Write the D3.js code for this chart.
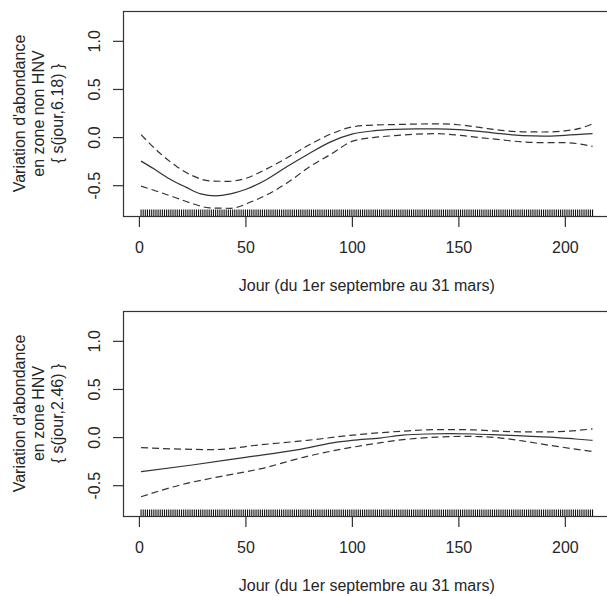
<!DOCTYPE html>
<html>
<head>
<meta charset="utf-8">
<script src="https://cdn.jsdelivr.net/npm/d3@7/dist/d3.min.js"></script>
<style>
  html, body { margin: 0; padding: 0; background: #fff; }
  svg { display: block; }
  text { font-family: "Liberation Sans", Arial, sans-serif; fill: #262626; }
</style>
</head>
<body>
<script>
// ---------- data ----------
const xTicks = [0, 50, 100, 150, 200];
const yTicks = [-0.5, 0.0, 0.5, 1.0];
const yTickLabels = ["-0.5", "0.0", "0.5", "1.0"];
const xTitle = "Jour (du 1er septembre au 31 mars)";

// observed days (rug)
const rugDays = [1,2,3,4,5,6,7,8,9,10,11,12,13,14,15,16,17,18,19,20,21,22,23,24,25,26,27,28,29,30,
31,32,33,34,35,36,37,38,39,40,41,42,43,44,45,46,47,48,49,50,51,52,53,54,55,56,57,58,59,60,
61,62,63,64,65,66,67,68,69,70,71,72,73,74,75,76,77,78,79,80,81,82,83,84,85,86,87,88,89,90,
91,92,93,94,95,96,97,98,99,100,101,102,103,104,105,106,107,108,109,110,111,112,113,114,115,116,117,118,119,120,
121,122,123,124,125,126,127,128,129,130,131,132,133,134,135,136,137,138,139,140,141,142,143,144,145,146,147,148,149,150,
151,152,153,154,155,156,157,158,159,160,161,162,163,164,165,166,167,168,169,170,171,172,173,174,175,176,177,178,179,180,
181,182,183,184,185,186,187,188,189,190,191,192,193,194,195,196,197,198,199,200,201,202,203,204,205,206,207,208,209,210,
211,212,213];

// Panel 1 : zone non HNV, s(jour,6.18)
const p1Title = ["Variation d'abondance", "en zone non HNV", "{ s(jour,6.18) }"];
const p1FitDays = [1, 7, 14, 22, 29, 36, 43, 50, 60, 70, 80, 90, 100, 110, 120, 130, 140, 150, 160, 170, 180, 190, 200, 213];
const p1Fit     = [-0.25, -0.33, -0.43, -0.52, -0.59, -0.61, -0.59, -0.545, -0.44, -0.30, -0.17, -0.05, 0.03, 0.065, 0.08, 0.085, 0.085, 0.078, 0.06, 0.035, 0.015, 0.01, 0.018, 0.035];
const p1UpDays  = [1, 10, 18, 25, 33, 42, 50, 60, 70, 80, 90, 100, 110, 120, 130, 140, 150, 160, 170, 180, 190, 200, 207, 213];
const p1Up      = [0.025, -0.17, -0.31, -0.40, -0.455, -0.46, -0.43, -0.33, -0.21, -0.08, 0.03, 0.105, 0.125, 0.13, 0.135, 0.138, 0.128, 0.10, 0.07, 0.055, 0.053, 0.065, 0.09, 0.138];
const p1LoDays  = [1, 8, 16, 25, 33, 43, 53, 60, 70, 80, 90, 100, 110, 120, 130, 140, 150, 160, 170, 180, 190, 200, 213];
const p1Lo      = [-0.51, -0.56, -0.62, -0.69, -0.735, -0.74, -0.67, -0.60, -0.47, -0.31, -0.18, -0.045, -0.005, 0.015, 0.03, 0.035, 0.02, -0.005, -0.028, -0.05, -0.058, -0.058, -0.096];

// Panel 2 : zone HNV, s(jour,2.46)
const p2Title = ["Variation d'abondance", "en zone HNV", "{ s(jour,2.46) }"];
const p2FitDays = [1, 25, 50, 75, 91, 100, 113, 124, 135, 146, 157, 166, 180, 193, 205, 213];
const p2Fit     = [-0.36, -0.29, -0.21, -0.13, -0.06, -0.035, -0.01, 0.02, 0.032, 0.035, 0.032, 0.025, 0.012, 0.0, -0.02, -0.034];
const p2UpDays  = [1, 20, 35, 57, 79, 99, 113, 124, 135, 146, 157, 166, 180, 193, 200, 213];
const p2Up      = [-0.11, -0.125, -0.13, -0.08, -0.034, 0.017, 0.045, 0.062, 0.075, 0.078, 0.075, 0.065, 0.055, 0.055, 0.06, 0.085];
const p2LoDays  = [1, 19, 38, 57, 79, 99, 113, 124, 140, 151, 160, 170, 180, 193, 213];
const p2Lo      = [-0.62, -0.50, -0.41, -0.33, -0.20, -0.11, -0.06, -0.027, 0.0, 0.007, 0.005, -0.01, -0.04, -0.086, -0.15];

// ---------- drawing ----------
const W = 607, H = 596;
const svg = d3.select("body").append("svg").attr("width", W).attr("height", H);
svg.append("rect").attr("width", W).attr("height", H).attr("fill", "#fff");

const lineColor = "#333";
const fontSize = 16;

const x = d3.scaleLinear().domain([-7.48, 221.48]).range([123, 610.6]);

function zip(a, b) { return a.map((d, i) => [d, b[i]]); }

function panel(offsetY, titleLines, fitD, fit, upD, up, loD, lo) {
  const g = svg.append("g").attr("transform", `translate(0,${offsetY})`);
  const top = 11, bottom = 216;
  const y = d3.scaleLinear().domain([-0.82, 1.31]).range([bottom, top]);
  const x0 = x.range()[0], x1 = x.range()[1];

  const line = d3.line().x(d => x(d[0])).y(d => y(d[1])).curve(d3.curveMonotoneX);

  // curves
  g.append("path").datum(zip(fitD, fit)).attr("d", line)
    .attr("fill", "none").attr("stroke", lineColor).attr("stroke-width", 1.2);
  g.append("path").datum(zip(upD, up)).attr("d", line)
    .attr("fill", "none").attr("stroke", lineColor).attr("stroke-width", 1.2)
    .attr("stroke-dasharray", "7,4");
  g.append("path").datum(zip(loD, lo)).attr("d", line)
    .attr("fill", "none").attr("stroke", lineColor).attr("stroke-width", 1.2)
    .attr("stroke-dasharray", "7,4");

  // rug
  g.append("g").selectAll("line").data(rugDays).join("line")
    .attr("x1", d => x(d)).attr("x2", d => x(d))
    .attr("y1", bottom - 6.5).attr("y2", bottom)
    .attr("stroke", "#111").attr("stroke-width", 1.1);

  // box
  g.append("rect").attr("x", x0 + 0.5).attr("y", top + 0.5)
    .attr("width", x1 - x0).attr("height", bottom - top)
    .attr("fill", "none").attr("stroke", lineColor).attr("stroke-width", 1.2);

  // x axis
  const xa = g.append("g").attr("transform", `translate(0,${bottom})`)
    .call(d3.axisBottom(x).tickValues(xTicks).tickSize(11).tickPadding(15).tickFormat(d3.format("d")));
  xa.select(".domain").remove();
  xa.selectAll("line").attr("stroke", lineColor).attr("stroke-width", 1.2);
  xa.selectAll("text").attr("font-size", fontSize).attr("font-family", "Liberation Sans, Arial, sans-serif")
    .attr("fill", "#262626");

  // y axis (rotated labels like R)
  const ya = g.append("g").attr("transform", `translate(${x0},0)`)
    .call(d3.axisLeft(y).tickValues(yTicks).tickSize(10).tickFormat((d, i) => yTickLabels[i]));
  ya.select(".domain").remove();
  ya.selectAll("line").attr("stroke", lineColor).attr("stroke-width", 1.2);
  ya.selectAll("text")
    .attr("x", 0).attr("dy", 0).attr("y", 0)
    .attr("text-anchor", "middle")
    .attr("transform", "translate(-23,0) rotate(-90)")
    .attr("font-size", fontSize).attr("font-family", "Liberation Sans, Arial, sans-serif")
    .attr("fill", "#262626");

  // x title
  g.append("text").attr("x", (x0 + x1) / 2).attr("y", 291)
    .attr("text-anchor", "middle").attr("font-size", fontSize).text(xTitle);

  // y title (3 lines)
  const cy = (top + bottom) / 2;
  const baselines = [25, 44, 63];
  titleLines.forEach((t, i) => {
    g.append("text")
      .attr("transform", `translate(${baselines[i]},${cy}) rotate(-90)`)
      .attr("text-anchor", "middle").attr("font-size", fontSize).text(t);
  });
}

panel(0, p1Title, p1FitDays, p1Fit, p1UpDays, p1Up, p1LoDays, p1Lo);
panel(300, p2Title, p2FitDays, p2Fit, p2UpDays, p2Up, p2LoDays, p2Lo);
</script>
</body>
</html>
